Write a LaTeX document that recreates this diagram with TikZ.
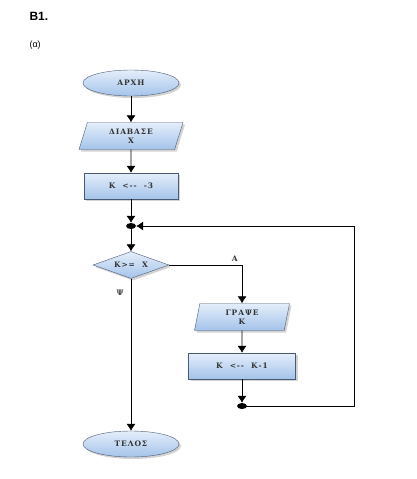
\documentclass[tikz,border=0pt]{standalone}
\usepackage{fontspec}
\setmainfont{Liberation Sans}
\newfontfamily\boxfont[LetterSpace=12, BoldFont={DejaVu Serif Bold}]{DejaVu Serif}
\usetikzlibrary{arrows.meta,shapes.geometric,shadows}

\definecolor{boxtop}{HTML}{E4EEFA}
\definecolor{boxbot}{HTML}{A4C3EA}
\definecolor{boxline}{HTML}{4A5A70}

\tikzset{
  flow/.style={draw=boxline, top color=boxtop, bottom color=boxbot,
    drop shadow={opacity=0.35, shadow xshift=2pt, shadow yshift=-2pt},
    font=\boxfont\bfseries\fontsize{7.5}{9}\selectfont, text=black!80,
    align=center, inner sep=1pt},
  term/.style={flow, ellipse, minimum width=96pt, minimum height=26pt},
  proc/.style={flow, rectangle, minimum height=26pt},
  io/.style={flow, trapezium, trapezium stretches body,
    trapezium left angle=63, trapezium right angle=117, minimum height=27pt},
  test/.style={flow, diamond, aspect=2.8, inner sep=0pt, minimum width=76pt, minimum height=27pt},
  joint/.style={ellipse, fill=black, minimum width=10pt, minimum height=6pt, inner sep=0pt},
  arr/.style={-{Latex[length=7pt,width=9pt]}, semithick},
  lbl/.style={font=\boxfont\bfseries\fontsize{7.5}{9}\selectfont, text=black!80}
}

\begin{document}
\begin{tikzpicture}[x=1pt,y=-1pt]
  \useasboundingbox (0,0) rectangle (416,479);
  %heading
  \node[anchor=west, font=\bfseries\fontsize{12}{14}\selectfont] (title) at (26,16) {B1.};
  \node[anchor=west, font=\fontsize{9}{11}\selectfont] (part) at (26,45) {(α)};

  %left column
  \node[term] (start) at (131,83) {ΑΡΧΗ};
  \node[io, minimum width=104pt] (read) at (131,136) {ΔΙΑΒΑΣΕ\\Χ};
  \node[proc, minimum width=94pt] (init) at (131,186) {Κ\ \ <--\ \ -3};
  \node[joint] (j1) at (131,226) {};
  \node[test] (cond) at (131,265) {Κ>=\ \ Χ};
  \node[term] (stop) at (131,444) {ΤΕΛΟΣ};

  %loop body
  \node[io, minimum width=95pt, trapezium left angle=72, trapezium right angle=108] (write) at (242,317) {ΓΡΑΨΕ\\Κ};
  \node[proc, minimum width=107pt] (dec) at (242,366) {Κ\ \ <--\ \ Κ-1};
  \node[joint] (j2) at (242,406) {};
  \coordinate (back) at (354,406);

  %connectors
  \draw[arr] (start) -- (read);
  \draw[arr] (read) -- (init);
  \draw[arr] (init) -- (j1);
  \draw[arr] (j1) -- (cond);
  \draw[arr] (cond.east) -| (write.north) node[lbl, pos=0.45, above] {Α};
  \draw[arr] (cond.south) -- (stop.north) node[lbl, pos=0.09, left, xshift=-4pt] {Ψ};
  \draw[arr] (write) -- (dec);
  \draw[arr] (dec) -- (j2);
  \draw[arr] (j2.center) -- (back) |- (j1.east);
\end{tikzpicture}
\end{document}
